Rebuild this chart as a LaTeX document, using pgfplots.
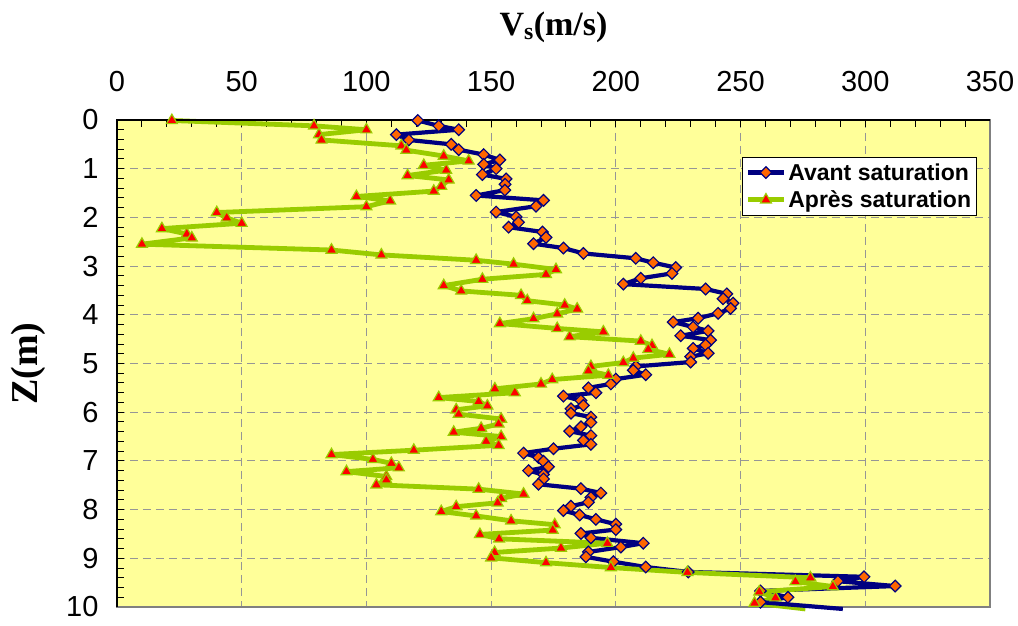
\documentclass[border=0pt]{standalone}
\usepackage{pgfplots}
\pgfplotsset{compat=1.18}
\usepackage{fontspec}
\setmainfont{Liberation Sans}
\newfontfamily\timesfont{Liberation Serif}
\definecolor{navyb}{RGB}{0,0,128}
\definecolor{orangem}{RGB}{255,102,0}
\definecolor{limeg}{RGB}{153,204,0}
\definecolor{bgy}{RGB}{255,255,153}
\definecolor{gridg}{RGB}{150,150,150}
\begin{document}
\begin{tikzpicture}
\begin{axis}[
  scale only axis, width=873bp, height=487bp,
  xmin=0, xmax=350, ymin=0, ymax=10,
  y dir=reverse,
  clip=false,
  axis background/.style={fill=bgy},
  xtick={0,50,...,350}, ytick={0,1,...,10},
  minor x tick num=4, minor y tick num=4,
  xtick pos=upper, xticklabel pos=upper, ytick pos=left,
  tick align=inside,
  major tick length=7bp, minor tick length=7bp,
  tick style={black, line width=1bp},
  grid=major,
  major grid style={gridg, line width=1bp, dash pattern=on 8bp off 5bp},
  axis line style={draw=black!50, line width=1.3bp},
  /pgf/number format/assume math mode=true,
  tick label style={font=\fontsize{29bp}{32bp}\selectfont},
  x tick label style={yshift=25bp},
  y tick label style={xshift=-15bp},
  xlabel={\timesfont\bfseries V\textsubscript{s}(m/s)},
  ylabel={\timesfont\bfseries Z(m)},
  xlabel style={at={(axis description cs:0.5,1.1725)}, anchor=base, font=\fontsize{34bp}{38bp}\selectfont},
  ylabel style={at={(axis description cs:-0.0905,0.5)}, anchor=base, font=\fontsize{38bp}{42bp}\selectfont},
  legend style={at={(axis description cs:0.716,0.924)}, anchor=north west, draw=black, fill=white, line width=1bp,
    font=\bfseries\fontsize{23bp}{26bp}\selectfont, inner xsep=3bp, inner ysep=4bp, row sep=5bp},
  legend cell align=left,
  legend image code/.code={\draw[mark repeat=2,mark phase=2] plot coordinates {(0bp,0bp) (18bp,0bp) (36bp,0bp)};},
]
\addplot[navyb, line width=4.2bp, line join=round, mark=square*, mark size=4.1bp,
  mark options={rotate=45, fill=orangem, draw=navyb, line width=1.2bp, solid, line join=miter}]
coordinates {
(120.6,0.01) (129,0.12) (137,0.2) (112,0.3) (117,0.41) (134,0.5) (137,0.61) (147,0.71) (153.5,0.82) (147,0.91)
(152,1.0) (146.5,1.12) (156,1.21) (155.6,1.32) (155.5,1.44) (144,1.55) (171,1.65) (168,1.77) (152,1.89) (160,1.99)
(161,2.1) (157,2.2) (170.6,2.3) (172,2.41) (167,2.54) (179,2.63) (187,2.74) (208,2.84) (215,2.93) (224,3.03)
(222.5,3.15) (210,3.25) (203,3.37) (236,3.47) (244.5,3.57) (243,3.67) (247,3.76) (246,3.87) (241,3.97) (233,4.07)
(223,4.15) (231,4.25) (237,4.33) (226,4.43) (238,4.52) (236,4.62) (231,4.69) (237,4.79) (230,4.86) (230,4.97)
(208,5.06) (207,5.14) (212,5.23) (200,5.32) (198,5.42) (189,5.5) (192,5.6) (179,5.67) (186,5.76) (187,5.86)
(182,5.93) (182,6.02) (190,6.1) (190,6.21) (186,6.3) (181.5,6.39) (190,6.48) (187,6.58) (190,6.66) (175,6.75)
(163,6.84) (169,6.93) (171,7.01) (173,7.12) (165,7.2) (171,7.28) (171,7.37) (169,7.48) (186,7.57) (194,7.66)
(190,7.75) (189,7.85) (182,7.93) (179,8.02) (185.5,8.11) (192,8.2) (200,8.3) (200,8.41) (186,8.49) (190,8.58)
(211,8.69) (202,8.77) (189,8.87) (188,8.97) (199,9.07) (212,9.18) (229,9.28) (299.5,9.38) (289,9.47) (312,9.57)
(258,9.67) (269,9.8) (258,9.9)
};
\addlegendentry{Avant saturation}
\addplot[limeg, line width=4.8bp, line join=round, mark=triangle*, mark size=6.3bp,
  mark options={fill=red, draw=limeg, line width=1.2bp, solid, line join=miter}]
coordinates {
(22,0.01) (79,0.12) (100,0.2) (81,0.3) (82,0.41) (114,0.53) (116,0.62) (131,0.74) (141,0.84) (123,0.93)
(132,1.03) (116.5,1.14) (133,1.23) (130,1.36) (127,1.46) (96,1.57) (109.5,1.66) (100,1.78) (40,1.9) (44,2.01)
(50,2.12) (18,2.23) (28,2.34) (30,2.42) (10,2.55) (86,2.67) (106,2.77) (144,2.88) (159,2.96) (176,3.07)
(172,3.17) (146.5,3.27) (131,3.4) (138,3.51) (162,3.6) (164.5,3.71) (179.5,3.8) (184.5,3.88) (176.5,3.98) (167,4.08)
(153.5,4.18) (176.5,4.28) (195,4.35) (181.5,4.45) (210,4.54) (214.5,4.63) (213,4.71) (221.5,4.81) (207,4.89) (203,4.98)
(190,5.06) (189,5.15) (197,5.24) (174.5,5.33) (170,5.42) (151.5,5.52) (159.5,5.6) (129,5.7) (145,5.78) (148.5,5.87)
(136,5.95) (137,6.04) (154,6.14) (153,6.24) (146,6.33) (135,6.41) (154,6.5) (148,6.6) (153,6.68) (119,6.78)
(86,6.87) (102.6,6.97) (110,7.05) (113,7.14) (92,7.22) (108,7.32) (108,7.39) (104,7.49) (145,7.58) (163,7.68)
(154,7.77) (152.6,7.86) (136,7.94) (130,8.04) (144,8.13) (158,8.23) (175.5,8.31) (174.7,8.42) (145.5,8.51) (153.2,8.6)
(196.6,8.69) (178,8.79) (151.4,8.88) (150,8.99) (172,9.09) (198,9.19) (228.7,9.29) (278,9.4) (272,9.48) (287,9.58)
(257.5,9.69) (264,9.81) (255.6,9.92)
};
\addlegendentry{Après saturation}
\addplot[limeg, line width=4.8bp, forget plot] coordinates {(255.6,9.92) (276,10.04)};
\addplot[navyb, line width=4.2bp, forget plot] coordinates {(258,9.9) (291,10.04)};
\draw[black, line width=1.5bp] (axis description cs:0,0) -- (axis description cs:0,1) -- (axis description cs:1,1);
\path (axis description cs:-0.134,1.2464) rectangle (axis description cs:1.0321,-0.037);
\end{axis}
\end{tikzpicture}
\end{document}
